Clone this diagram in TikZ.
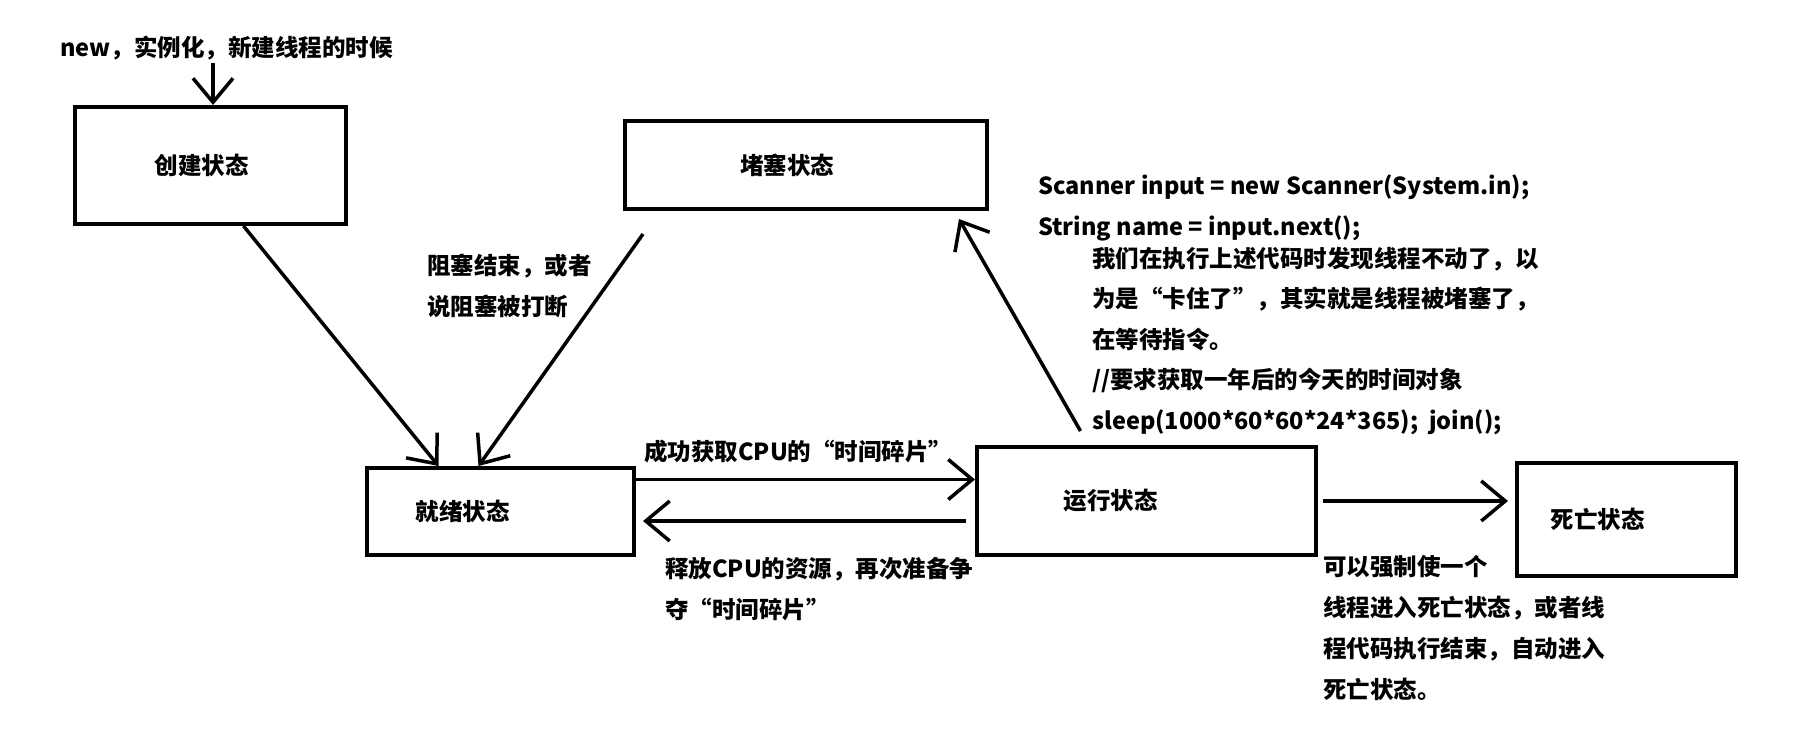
\documentclass[tikz,border=0pt]{standalone}
\usepackage{fontspec}
\setmainfont{Noto Sans CJK SC}
\usepackage{tikz}
\usetikzlibrary{arrows.meta,              % pointes de flèches
           positioning}
\tikzset{
  etat/.style={draw,line width=4pt,inner sep=0pt},
  fleche/.style={line width=3.5pt,-{Straight Barb[length=24pt,width=40pt]}},
  texte/.style={anchor=west,align=left,inner sep=0pt}
}

\begin{document}
\begin{tikzpicture}[x=1pt,y=-1pt,font=\fontsize{23.5}{41}\selectfont\bfseries]
\useasboundingbox (0,0) rectangle (1806,746);
\node[etat,minimum width=271pt,minimum height=117pt,label={[xshift=-9pt]center:创建状态}] (creation) at (210.5,165.5) {};
\node[etat,minimum width=362pt,minimum height=88pt,label={[xshift=-19pt]center:堵塞状态}] (bloque) at (806,165) {};
\node[etat,minimum width=267pt,minimum height=87pt,label={[xshift=-38pt]center:就绪状态}] (pret) at (500.5,511.5) {};
\node[etat,minimum width=339pt,minimum height=108pt,label={[xshift=-36pt]center:运行状态}] (execution) at (1146.5,501) {};
\node[etat,minimum width=219pt,minimum height=113pt,label={[xshift=-29pt]center:死亡状态}] (mort) at (1626.5,519.5) {};
\node[texte] (tnew) at (60,48) {new，实例化，新建线程的时候};
\coordinate (nouveau) at (213,63);
\node[texte] (tfin) at (427,286) {阻塞结束，或者\\说阻塞被打断};
\node[texte] (tcpu) at (644,452) {成功获取CPU的“时间碎片”};
\node[texte] (tlibere) at (665,589) {释放CPU的资源，再次准备争\\夺“时间碎片”};
\node[texte] (tmort) at (1323,628.5) {可以强制使一个\\线程进入死亡状态，或者线\\程代码执行结束，自动进入\\死亡状态。};
\node[texte] (tcode) at (1038,207.5) {Scanner input = new Scanner(System.in);\\String name = input.next();};
\node[texte,font=\fontsize{23.5}{40.5}\selectfont\bfseries] (tnote) at (1092,341) {我们在执行上述代码时发现线程不动了，以\\为是“卡住了”，其实就是线程被堵塞了，\\在等待指令。\\//要求获取一年后的今天的时间对象\\sleep(1000*60*60*24*365);~~join();};
\draw[fleche] (nouveau) -- (nouveau |- creation.north);
\draw[fleche] ([xshift=33pt]creation.south) -- ([xshift=-62pt]pret.north);
\draw[fleche] ([xshift=-163pt,yshift=-23pt]bloque.south) -- ([xshift=-22pt]pret.north);
\draw[fleche] ([yshift=32pt]pret.east) -- ([yshift=32pt]pret.east -| execution.west);
\draw[fleche] ([xshift=-9pt,yshift=-20pt]execution.west) -- ([xshift=7pt,yshift=-20pt]execution.west -| pret.east);
\draw[fleche] ([xshift=5pt]execution.east) -- ([xshift=-7pt]execution.east -| mort.west);
\draw[fleche] ([xshift=-66pt,yshift=14pt]execution.north) -- ([xshift=-30pt,yshift=-8pt]bloque.south east);
\end{tikzpicture}
\end{document}
